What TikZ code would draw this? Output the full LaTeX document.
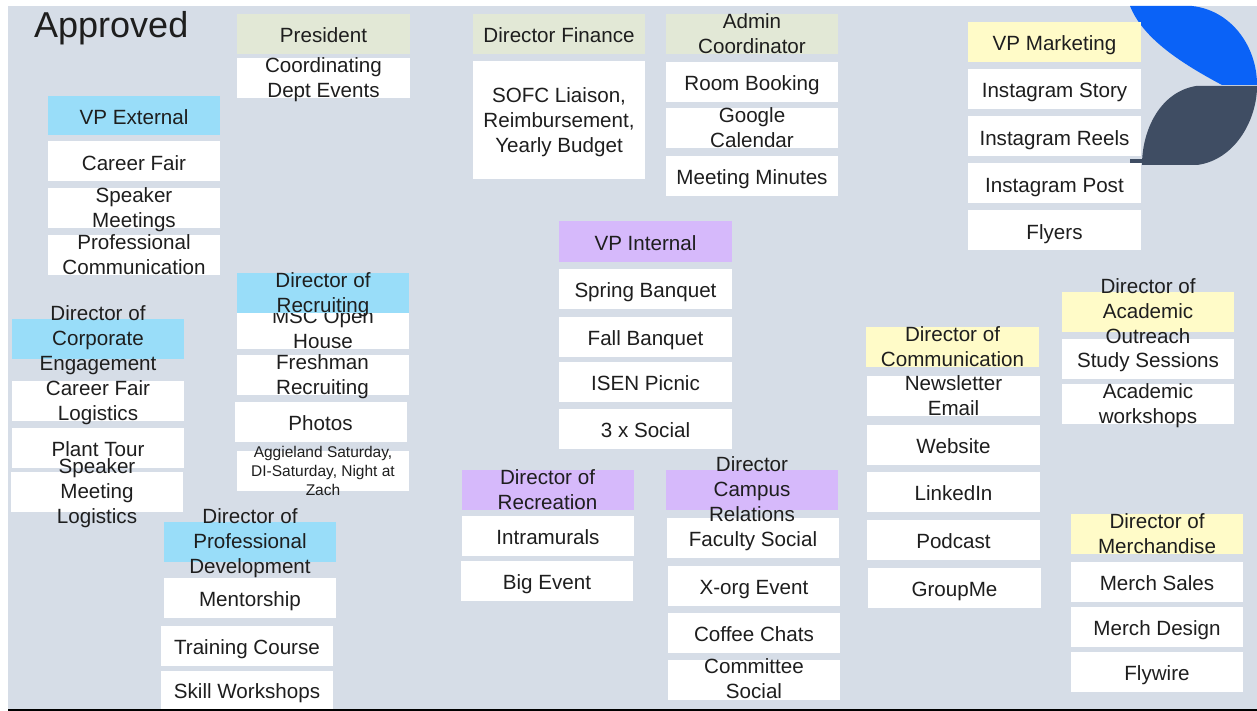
\documentclass[tikz,border=0pt]{standalone}
\usepackage{fontspec}
\setmainfont{Liberation Sans}
\usetikzlibrary{calc}

\definecolor{slide}{RGB}{214,221,231}
\definecolor{ink}{RGB}{30,30,30}
\definecolor{skyhead}{RGB}{153,221,249}
\definecolor{sagehead}{RGB}{226,232,214}
\definecolor{lilachead}{RGB}{214,185,251}
\definecolor{creamhead}{RGB}{255,251,200}
\definecolor{leafblue}{RGB}{10,98,247}
\definecolor{leafslate}{RGB}{63,77,99}

\tikzset{
    box/.style = {minimum width=172pt, minimum height=40pt, inner sep=0pt, outer sep=0pt},
    task/.style = {box, fill=white},
    head/.style = {box, fill=#1},
    txt/.style = {align=center, inner sep=0pt, yshift=-1.5pt, text=ink, font=\fontsize{20.6}{25}\selectfont,
        execute at begin node={\rule{0pt}{0.905em}}, execute at end node={\rule[-0.212em]{0pt}{0pt}}},
    smalltxt/.style = {txt, font=\fontsize{15.5}{18.7}\selectfont},
}

\begin{document}
\begin{tikzpicture}[x=1pt, y=-1pt]

    \useasboundingbox (0,0) rectangle (1257,711);
    \fill[slide] (8,6) rectangle (1257,709);
    \fill[black] (8,709) rectangle (1257,711);

    \fill[leafblue] (1130,6) -- (1192,6) .. controls (1230,10) and (1257,45) .. (1257,85)
        -- (1222,85) .. controls (1175,60) and (1142,36) .. (1130,6) -- cycle;
    \fill[leafslate] (1196,86) -- (1257,86) .. controls (1257,120) and (1235,160) .. (1197,165)
        -- (1142,165) .. controls (1142,130) and (1160,92) .. (1196,86) -- cycle;
    \fill[leafslate] (1130,159.5) rectangle (1143,163);

    \node[anchor=base west, inner sep=0pt, text=ink, font=\fontsize{36}{42}\selectfont] (title) at (34,38) {Approved};

    % VP External
    \node[task] (cf) at (134,161.5) {};
    \node[txt] (cf-t) at (cf) {Career Fair};
    \node[task] (spk) at (134,208) {};
    \node[txt] (spk-t) at (spk) {Speaker\\Meetings};
    \node[task] (pc) at (134,255) {};
    \node[txt] (pc-t) at (pc) {Professional\\Communication};
    \node[head=skyhead, minimum height=39pt] (vpe) at (134,115.5) {};
    \node[txt] (vpe-t) at (vpe) {VP External};

    % President
    \node[task, minimum width=173pt] (cde) at (323.5,78) {};
    \node[txt] (cde-t) at (cde) {Coordinating\\Dept Events};
    \node[head=sagehead, minimum width=173pt] (pres) at (323.5,34) {};
    \node[txt] (pres-t) at (pres) {President};

    % Director of Recruiting
    \node[task] (msc) at (323,329) {};
    \node[txt] (msc-t) at (msc) {MSC Open\\House};
    \node[head=skyhead] (rec) at (323,293) {};
    \node[txt] (rec-t) at (rec) {Director of\\Recruiting};
    \node[task] (fr) at (322.5,375) {};
    \node[txt] (fr-t) at (fr) {Freshman\\Recruiting};
    \node[task] (ph) at (320.5,422) {};
    \node[txt] (ph-t) at (ph) {Photos};
    \node[task] (ags) at (323,471) {};
    \node[smalltxt] (ags-t) at (ags) {Aggieland Saturday,\\DI-Saturday, Night at\\Zach};

    % Director of Corporate Engagement
    \node[task] (cfl) at (98,401) {};
    \node[txt] (cfl-t) at (cfl) {Career Fair\\Logistics};
    \node[task] (pt) at (98,447.5) {};
    \node[txt] (pt-t) at (pt) {Plant Tour};
    \node[task] (sml) at (97,492) {};
    \node[txt] (sml-t) at (sml) {Speaker\\Meeting\\Logistics};
    \node[head=skyhead] (corp) at (98,339) {};
    \node[txt] (corp-t) at (corp) {Director of\\Corporate\\Engagement};

    % Director of Professional Development
    \node[task] (men) at (250,598) {};
    \node[txt] (men-t) at (men) {Mentorship};
    \node[task] (tc) at (247,646) {};
    \node[txt] (tc-t) at (tc) {Training Course};
    \node[task, minimum height=38pt] (sw) at (247,690) {};
    \node[txt] (sw-t) at (sw) {Skill Workshops};
    \node[head=skyhead] (pd) at (250,541.5) {};
    \node[txt] (pd-t) at (pd) {Director of\\Professional\\Development};

    % Director Finance
    \node[task, minimum height=118pt] (sofc) at (559,120.5) {};
    \node[txt] (sofc-t) at (sofc) {SOFC Liaison,\\Reimbursement,\\Yearly Budget};
    \node[head=sagehead] (fin) at (559,34) {};
    \node[txt] (fin-t) at (fin) {Director Finance};

    % Admin Coordinator
    \node[task] (rb) at (752,82) {};
    \node[txt] (rb-t) at (rb) {Room Booking};
    \node[task] (gc) at (752,128.5) {};
    \node[txt] (gc-t) at (gc) {Google\\Calendar};
    \node[task] (mm) at (752,176) {};
    \node[txt] (mm-t) at (mm) {Meeting Minutes};
    \node[head=sagehead] (adm) at (752,34) {};
    \node[txt] (adm-t) at (adm) {Admin\\Coordinator};

    % VP Internal
    \node[task, minimum width=173pt] (sb) at (645.5,289) {};
    \node[txt] (sb-t) at (sb) {Spring Banquet};
    \node[task, minimum width=173pt] (fb) at (645.5,336.5) {};
    \node[txt] (fb-t) at (fb) {Fall Banquet};
    \node[task, minimum width=173pt] (isen) at (645.5,382) {};
    \node[txt] (isen-t) at (isen) {ISEN Picnic};
    \node[task, minimum width=173pt] (xs) at (645.5,429) {};
    \node[txt] (xs-t) at (xs) {3 x Social};
    \node[head=lilachead, minimum width=173pt] (vpi) at (645.5,241.5) {};
    \node[txt] (vpi-t) at (vpi) {VP Internal};

    % Director of Recreation
    \node[task] (im) at (548,536) {};
    \node[txt] (im-t) at (im) {Intramurals};
    \node[task] (be) at (547,581) {};
    \node[txt] (be-t) at (be) {Big Event};
    \node[head=lilachead] (recr) at (547.5,490) {};
    \node[txt] (recr-t) at (recr) {Director of\\Recreation};

    % Director Campus Relations
    \node[task] (fs) at (753,538) {};
    \node[txt] (fs-t) at (fs) {Faculty Social};
    \node[task] (xo) at (754,585.5) {};
    \node[txt] (xo-t) at (xo) {X-org Event};
    \node[task] (cc) at (754,632.5) {};
    \node[txt] (cc-t) at (cc) {Coffee Chats};
    \node[task] (cs) at (754,679.5) {};
    \node[txt] (cs-t) at (cs) {Committee\\Social};
    \node[head=lilachead] (camp) at (752,490) {};
    \node[txt] (camp-t) at (camp) {Director\\Campus\\Relations};

    % VP Marketing
    \node[task, minimum width=173pt] (is) at (1054.5,89) {};
    \node[txt] (is-t) at (is) {Instagram Story};
    \node[task, minimum width=173pt] (ir) at (1054.5,136.5) {};
    \node[txt] (ir-t) at (ir) {Instagram Reels};
    \node[task, minimum width=173pt] (ip) at (1054.5,183.5) {};
    \node[txt] (ip-t) at (ip) {Instagram Post};
    \node[task, minimum width=173pt] (fly) at (1054.5,230.5) {};
    \node[txt] (fly-t) at (fly) {Flyers};
    \node[head=creamhead, minimum width=173pt] (vpm) at (1054.5,42) {};
    \node[txt] (vpm-t) at (vpm) {VP Marketing};

    % Director of Communication
    \node[task, minimum width=173pt] (nl) at (953.5,396) {};
    \node[txt] (nl-t) at (nl) {Newsletter\\Email};
    \node[task, minimum width=173pt] (web) at (953.5,444.5) {};
    \node[txt] (web-t) at (web) {Website};
    \node[task, minimum width=173pt] (li) at (953.5,491.5) {};
    \node[txt] (li-t) at (li) {LinkedIn};
    \node[task, minimum width=173pt] (pod) at (953.5,539.5) {};
    \node[txt] (pod-t) at (pod) {Podcast};
    \node[task, minimum width=173pt] (gm) at (954.5,587.5) {};
    \node[txt] (gm-t) at (gm) {GroupMe};
    \node[head=creamhead, minimum width=173pt] (com) at (952.5,347) {};
    \node[txt] (com-t) at (com) {Director of\\Communication};

    % Director of Academic Outreach
    \node[task] (ss) at (1148,359) {};
    \node[txt] (ss-t) at (ss) {Study Sessions};
    \node[task] (aw) at (1148,404) {};
    \node[txt] (aw-t) at (aw) {Academic\\workshops};
    \node[head=creamhead] (aca) at (1148,312) {};
    \node[txt] (aca-t) at (aca) {Director of\\Academic\\Outreach};

    % Director of Merchandise
    \node[task] (ms) at (1157,582) {};
    \node[txt] (ms-t) at (ms) {Merch Sales};
    \node[task] (md) at (1157,627) {};
    \node[txt] (md-t) at (md) {Merch Design};
    \node[task] (fw) at (1157,672) {};
    \node[txt] (fw-t) at (fw) {Flywire};
    \node[head=creamhead] (mer) at (1157,534) {};
    \node[txt] (mer-t) at (mer) {Director of\\Merchandise};

\end{tikzpicture}
\end{document}
